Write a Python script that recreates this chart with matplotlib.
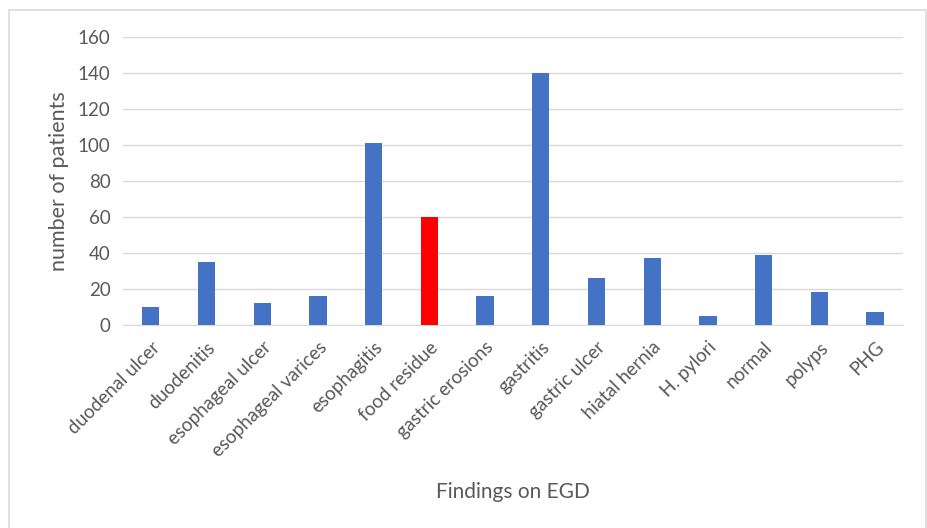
import numpy as np
import matplotlib
matplotlib.use("Agg")
import matplotlib.pyplot as plt
from matplotlib.patches import Rectangle

plt.rcParams['font.family'] = ['Lato', 'DejaVu Sans']

# =================== Data ===================
findings = ["duodenal ulcer", "duodenitis", "esophageal ulcer", "esophageal varices",
            "esophagitis", "food residue", "gastric erosions", "gastritis",
            "gastric ulcer", "hiatal hernia", "H. pylori", "normal", "polyps", "PHG"]
patients = [10, 35, 12, 16, 101, 60, 16, 140, 26, 37, 5, 39, 18, 7]
highlight = "food residue"

# =================== Plot ===================
blue = "#4472C4"
text_col = "#595959"
colors = ["#FF0000" if f == highlight else blue for f in findings]

fig = plt.figure(figsize=(9.28, 5.28), dpi=100)
ax = fig.add_axes([0.1325, 0.385, 0.8405, 0.5455])

x = np.arange(len(findings))
ax.bar(x, patients, width=0.31, color=colors, zorder=3)

ax.set_xlim(-0.5, len(findings) - 0.5)
ax.set_ylim(0, 160)
ax.set_yticks(np.arange(0, 161, 20))
ax.grid(axis='y', color="#D9D9D9", linewidth=1.0, zorder=0)
for side in ["top", "right", "left"]:
    ax.spines[side].set_visible(False)
ax.spines["bottom"].set_color("#D9D9D9")
ax.tick_params(axis='both', length=0, labelsize=13.5, colors=text_col, pad=9)

ax.set_xticks(x)
ax.set_xticklabels(findings, rotation=45, ha='right', rotation_mode='anchor')
ax.tick_params(axis='x', pad=10)

ax.set_ylabel("number of patients", fontsize=15.5, color=text_col, labelpad=6)
ax.set_xlabel("Findings on EGD", fontsize=15, color=text_col, labelpad=16)

# chart frame
fig.patches.append(Rectangle((9 / 928, -0.02), 917 / 928, 1.02 - 10 / 528,
                             transform=fig.transFigure, fill=False,
                             edgecolor="#D9D9D9", linewidth=1.2))

fig.savefig("out.png", dpi=100, facecolor="white")
